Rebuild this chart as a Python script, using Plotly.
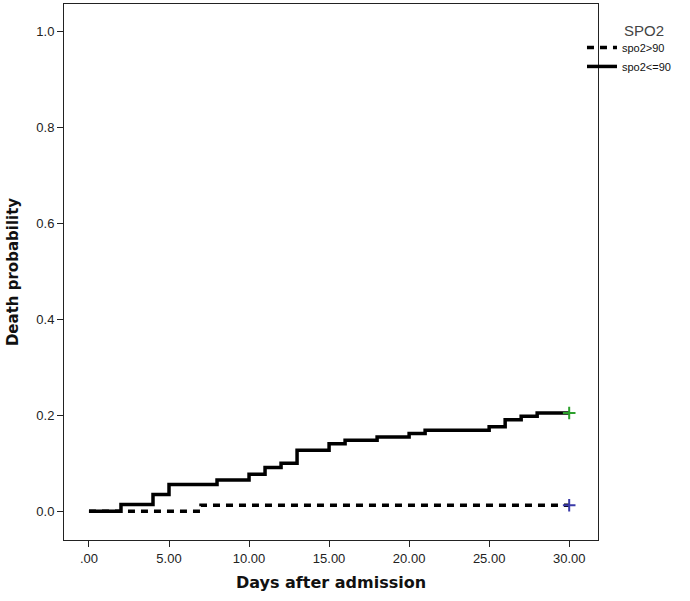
import plotly.graph_objects as go

# cumulative death probability
low_days = [0, 2, 4, 5, 8, 10, 11, 12, 13, 15, 16, 18, 20, 21, 25, 26, 27, 28, 30]
low_prob = [0, 0.014, 0.035, 0.056, 0.065, 0.077, 0.091, 0.100, 0.127, 0.141,
            0.148, 0.155, 0.162, 0.169, 0.176, 0.191, 0.198, 0.205, 0.205]

high_days = [0, 7, 30]
high_prob = [0, 0.0125, 0.0125]

x_ticks = [0, 5, 10, 15, 20, 25, 30]
x_labels = [".00", "5.00", "10.00", "15.00", "20.00", "25.00", "30.00"]
y_ticks = [0, 0.2, 0.4, 0.6, 0.8, 1.0]
y_labels = ["0.0", "0.2", "0.4", "0.6", "0.8", "1.0"]

fig = go.Figure()

fig.add_trace(
    go.Scatter(
        x=high_days,
        y=high_prob,
        mode="lines",
        name="spo2>90",
        line=dict(color="black", width=3.5, dash="7px,6px", shape="hv"),
    )
)
fig.add_trace(
    go.Scatter(
        x=low_days,
        y=low_prob,
        mode="lines",
        name="spo2<=90",
        line=dict(color="black", width=3.5, shape="hv"),
    )
)
# censored markers at the end of follow-up
fig.add_trace(
    go.Scatter(
        x=[high_days[-1]],
        y=[high_prob[-1]],
        mode="markers",
        showlegend=False,
        marker=dict(symbol="cross-thin", size=9, line=dict(color="#3a3aa8", width=2)),
    )
)
fig.add_trace(
    go.Scatter(
        x=[low_days[-1]],
        y=[low_prob[-1]],
        mode="markers",
        showlegend=False,
        marker=dict(symbol="cross-thin", size=9, line=dict(color="#2ca02c", width=2)),
    )
)

axis_common = dict(
    showgrid=False,
    zeroline=False,
    showline=True,
    linecolor="#222",
    linewidth=1,
    mirror=True,
    ticks="outside",
    ticklen=6,
    tickcolor="#222",
    tickfont=dict(family="Liberation Sans, Arial", size=13, color="#222"),
)

fig.update_layout(
    width=690,
    height=601,
    paper_bgcolor="white",
    plot_bgcolor="white",
    margin=dict(l=64, r=92, t=4, b=61, autoexpand=False),
    xaxis=dict(
        axis_common,
        range=[-1.56, 31.8],
        tickvals=x_ticks,
        ticktext=x_labels,
        title=dict(
            text="<b>Days after admission</b>",
            font=dict(family="DejaVu Sans, Verdana", size=16, color="#111"),
            standoff=12,
        ),
    ),
    yaxis=dict(
        axis_common,
        range=[-0.06, 1.058],
        tickvals=y_ticks,
        ticktext=y_labels,
        title=dict(
            text="<b>Death probability</b>",
            font=dict(family="DejaVu Sans, Verdana", size=15, color="#111"),
            standoff=14,
        ),
    ),
    legend=dict(
        x=0.97,
        y=0.946,
        xanchor="left",
        yanchor="top",
        font=dict(family="Liberation Sans, Arial", size=11, color="#111"),
        itemwidth=30,
        tracegroupgap=0,
        bgcolor="rgba(0,0,0,0)",
    ),
    annotations=[
        dict(
            text="SPO2",
            xref="paper",
            yref="paper",
            x=1.127,
            y=0.970,
            showarrow=False,
            font=dict(family="Liberation Sans, Arial", size=15, color="#444"),
        )
    ],
)

fig.write_html(
    "out.html",
    config={"displayModeBar": False},
    post_script="document.body.style.margin='0px';",
)
